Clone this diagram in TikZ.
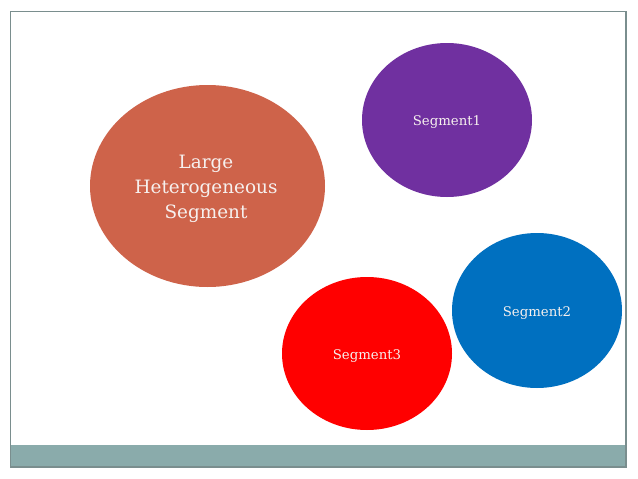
\documentclass[tikz,border=0pt]{standalone}
\usepackage{fontspec}
\setmainfont{DejaVu Serif}
\usetikzlibrary{shapes.geometric}
\definecolor{largec}{RGB}{206,99,74}
\definecolor{purplec}{RGB}{112,48,160}
\definecolor{bluec}{RGB}{0,112,192}
\definecolor{redc}{RGB}{255,0,0}
\definecolor{barc}{RGB}{138,171,171}
\definecolor{framec}{RGB}{122,142,142}
\definecolor{txtc}{RGB}{246,240,238}
\tikzset{
  seg/.style={ellipse, inner sep=0pt, text=txtc, align=center},
  smalltxt/.style={font=\fontsize{13.3}{16}\selectfont},
}
\begin{document}
\begin{tikzpicture}[x=1pt,y=-1pt]
\useasboundingbox[fill=white] (0,0) rectangle (638,479);
\fill[barc] (10.5,445) rectangle (626,467);
\draw[framec, line width=1.1pt] (10.5,467) -- (10.5,11.5) -- (626,11.5) -- (626,467) -- cycle;
\node[seg, fill=largec, minimum width=235pt, minimum height=202pt] (large) at (207.5,186) {};
\node[text=txtc, align=center, font=\fontsize{18.4}{25}\selectfont] (largetxt) at (206,189) {Large\\Heterogeneous\\Segment};
\node[seg, fill=purplec, minimum width=170pt, minimum height=154pt] (s1) at (447,120) {};
\node[text=txtc, smalltxt] (t1) at (447,122) {Segment1};
\node[seg, fill=bluec, minimum width=170pt, minimum height=155pt] (s2) at (537,310.5) {};
\node[text=txtc, smalltxt] (t2) at (537,313) {Segment2};
\node[seg, fill=redc, minimum width=170pt, minimum height=153pt] (s3) at (367,353.5) {};
\node[text=txtc, smalltxt] (t3) at (367,356) {Segment3};
\end{tikzpicture}
\end{document}
